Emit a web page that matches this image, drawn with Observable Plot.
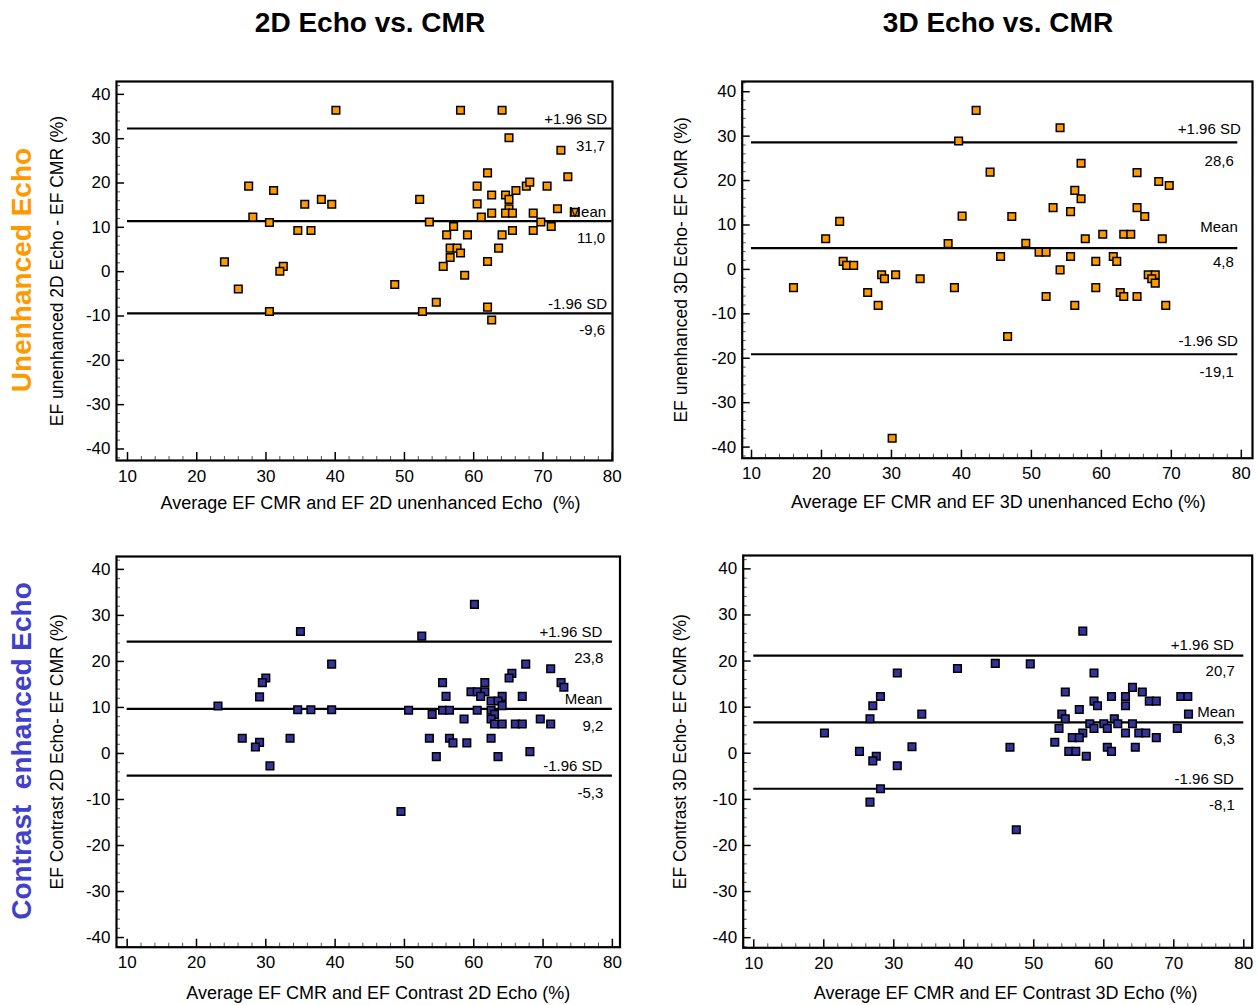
<!DOCTYPE html>
<html><head><meta charset="utf-8">
<script src="https://cdn.jsdelivr.net/npm/d3@7"></script>
<script src="https://cdn.jsdelivr.net/npm/@observablehq/plot@0.6"></script>
<style>
body{margin:0;background:#fff;}
#page{position:relative;width:1259px;height:1005px;overflow:hidden;font-family:"Liberation Sans",Arial,sans-serif;background:#fff;}
.title{position:absolute;font-weight:bold;font-size:28px;transform:translate(-50%,-50%);white-space:pre;color:#000;}
.row{position:absolute;font-weight:bold;font-size:28px;white-space:pre;transform:translate(-50%,-50%) rotate(-90deg);}
.panel{position:absolute;}
</style></head>
<body><div id="page"></div>
<script>
// ---------- data ----------
const colTitles = ["2D Echo vs. CMR", "3D Echo vs. CMR"];
const rowTitles = ["Unenhanced Echo", "Contrast  enhanced Echo"];
const limitNames = ["+1.96 SD", "Mean", "-1.96 SD"];
const xTicks = [10, 20, 30, 40, 50, 60, 70, 80];
const yTicks = [-40, -30, -20, -10, 0, 10, 20, 30, 40];

// Unenhanced 2D echo vs CMR
const u2dAvg = [40.1,27.5,31.1,35.6,38.0,39.5,28.1,30.5,34.6,36.5,24.0,32.5,32.0,26.0,30.5,
  58.1,64.1,65.1,72.6,62.0,73.6,60.5,67.6,68.1,70.6,66.1,62.6,64.6,52.2,60.5,65.1,65.1,72.1,62.6,64.6,65.6,68.6,74.6,61.1,53.6,69.7,71.2,57.1,56.1,59.1,64.1,65.6,68.6,56.6,57.6,58.1,63.6,56.6,55.6,62.0,58.7,48.6,54.6,52.6,62.0,62.6];
const u2dDiff = [36.4,19.3,18.3,15.2,16.3,15.2,12.3,11.1,9.3,9.3,2.2,1.2,0.1,-3.9,-9.0,
  36.4,36.4,30.2,27.4,22.3,21.4,19.3,19.3,20.2,19.3,18.3,17.3,17.3,16.3,15.3,16.3,14.2,14.2,13.2,13.2,13.2,13.2,13.4,12.3,11.2,11.2,10.2,10.2,8.3,8.3,8.3,9.3,9.3,5.3,5.3,4.2,5.3,3.2,1.2,2.3,-0.8,-2.9,-6.9,-9.0,-8.0,-10.9];
const u2dLimits = [32.3, 11.4, -9.4];
const u2dLimitText = ["31,7", "11,0", "-9,6"];

// Unenhanced 3D echo vs CMR
const u3dAvg = [42.1,39.6,44.1,22.6,40.1,20.6,38.1,45.6,23.1,23.6,24.6,28.6,29.0,30.6,34.1,16.0,39.0,26.6,28.1,30.1,
  54.1,57.1,65.1,68.2,69.7,56.2,57.1,53.1,55.6,65.1,66.2,47.2,57.7,60.2,63.2,64.2,68.7,49.2,51.1,52.1,55.6,59.2,61.7,62.2,54.1,66.7,67.7,67.2,67.7,59.2,62.7,63.2,52.1,65.1,56.2,69.2,46.6];
const u3dDiff = [35.8,28.9,21.9,10.8,12.0,6.9,5.8,2.9,1.8,0.9,0.9,-1.2,-2.1,-1.2,-2.1,-4.1,-4.1,-5.2,-8.1,-38.0,
  31.9,23.9,21.8,19.8,18.9,17.8,15.9,13.9,13.0,13.9,11.9,11.9,6.9,7.9,7.9,7.9,6.9,5.9,3.9,3.9,2.9,1.8,2.9,1.8,-0.1,-1.2,-1.2,-2.1,-3.1,-4.1,-5.2,-6.1,-6.1,-6.1,-8.1,-8.1,-15.1];
const u3dLimits = [28.6, 4.8, -19.1];
const u3dLimitText = ["28,6", "4,8", "-19,1"];

// Contrast 2D echo vs CMR
const c2dAvg = [35.0,39.5,30.0,29.5,29.1,23.1,34.6,36.5,39.5,26.6,33.5,29.1,28.5,30.6,
  60.1,52.5,67.5,71.1,65.5,65.1,72.6,73.0,55.5,61.6,59.6,60.5,61.6,61.0,56.0,67.0,64.1,62.5,63.5,64.1,50.6,55.5,56.5,60.5,62.5,54.0,63.0,58.6,62.5,69.6,63.0,64.1,66.0,67.0,71.1,53.6,56.5,57.0,59.0,62.5,54.6,63.5,68.1,49.5];
const c2dDiff = [26.5,19.4,16.4,15.4,12.3,10.3,9.5,9.5,9.5,3.3,3.3,2.4,1.4,-2.7,
  32.4,25.5,19.4,18.4,17.4,16.4,15.4,14.4,15.4,15.4,13.4,13.4,13.4,12.4,12.4,12.4,12.4,11.4,11.4,10.4,9.4,9.4,9.4,9.4,9.4,8.5,8.5,7.5,7.5,7.5,6.4,6.4,6.4,6.4,6.4,3.3,3.3,2.3,2.3,3.3,-0.7,-0.7,0.4,-12.6];
const c2dLimits = [24.3, 9.7, -4.8];
const c2dLimitText = ["23,8", "9,2", "-5,3"];

// Contrast 3D echo vs CMR
const c3dAvg = [44.5,39.1,30.5,28.1,27.0,34.0,26.6,20.1,32.6,25.1,27.5,27.0,30.5,28.1,26.6,
  57.0,49.5,58.6,64.1,54.5,65.5,61.1,63.1,71.0,72.0,58.6,66.5,67.5,59.1,63.1,56.5,54.0,54.5,72.1,61.5,58.0,60.0,62.0,64.1,53.6,58.6,60.5,70.5,57.0,55.5,56.5,63.1,65.0,66.0,67.5,53.0,46.6,60.5,64.5,55.0,56.0,61.1,57.5,47.5];
const c3dDiff = [19.5,18.4,17.4,12.3,10.3,8.5,7.5,4.4,1.4,0.4,-0.65,-1.65,-2.7,-7.7,-10.6,
  26.5,19.4,17.4,14.3,13.3,13.3,12.3,12.3,12.3,12.3,11.3,11.3,11.3,10.3,10.3,9.5,8.5,7.5,8.5,7.5,6.4,6.4,6.4,6.4,5.4,5.4,5.4,5.4,4.4,3.4,3.4,4.4,4.4,4.4,3.4,2.4,1.3,1.3,1.3,0.4,0.4,0.4,-0.65,-16.6];
const c3dLimits = [21.2, 6.7, -7.7];
const c3dLimitText = ["20,7", "6,3", "-8,1"];

// ---------- layout ----------
const FONT = '"Liberation Sans", Arial, sans-serif';
const ORANGE = "#FF9900";
const BLUE_PT = "#333399";
const BLUE_TXT = "#4040CC";

const page = document.getElementById("page");
function addDiv(cls, text, left, top, color) {
  const d = document.createElement("div");
  d.className = cls; d.textContent = text;
  d.style.left = left + "px"; d.style.top = top + "px";
  if (color) d.style.color = color;
  page.appendChild(d);
}
addDiv("title", colTitles[0], 370, 23);
addDiv("title", colTitles[1], 998, 23);
addDiv("row", rowTitles[0], 22, 270, ORANGE);
addDiv("row", rowTitles[1], 22, 751, BLUE_TXT);

const panels = [
  {left: 40, top: 50, w: 590, h: 480, ml: 76, mr: 18, mt: 31, mb: 70,
   xDomain: [8.41, 80.05], yDomain: [-42.6, 42.9],
   avg: u2dAvg, diff: u2dDiff, lim: u2dLimits, limText: u2dLimitText, lineEnd: 80,
   color: ORANGE, xLabel: "Average EF CMR and EF 2D unenhanced Echo  (%)",
   yLabel: "EF unenhanced 2D Echo - EF CMR (%)", xlDx: 6, xlDy: 43, ylDx: -59,
   nameDx: [-5, -6, -5], valDx: -7, nameDy: [-9, -9, -9], valDy: [18, 17, 17]},
  {left: 655, top: 50, w: 604, h: 480, ml: 86.7, mr: 7, mt: 31, mb: 72.3,
   xDomain: [8.67, 81.6], yDomain: [-42.5, 42.3],
   avg: u3dAvg, diff: u3dDiff, lim: u3dLimits, limText: u3dLimitText, lineEnd: 79.5,
   color: ORANGE, xLabel: "Average EF CMR and EF 3D unenhanced Echo (%)",
   yLabel: "EF unenhanced 3D Echo- EF CMR (%)", xlDx: 1, xlDy: 44, ylDx: -60.7,
   nameDx: [3, 0, 0], valDx: -4, nameDy: [-13, -21, -13], valDy: [19, 14, 18]},
  {left: 40, top: 535, w: 590, h: 470, ml: 76, mr: 10.5, mt: 21, mb: 58.3,
   xDomain: [8.46, 81.1], yDomain: [-42.1, 42.8],
   avg: c2dAvg, diff: c2dDiff, lim: c2dLimits, limText: c2dLimitText, lineEnd: 80,
   color: BLUE_PT, xLabel: "Average EF CMR and EF Contrast 2D Echo (%)",
   yLabel: "EF Contrast 2D Echo- EF CMR (%)", xlDx: 10, xlDy: 46, ylDx: -59,
   nameDx: [-10, -10, -10], valDx: -9, nameDy: [-9, -10, -9], valDy: [17, 17, 18]},
  {left: 655, top: 535, w: 604, h: 470, ml: 87.7, mr: 7.3, mt: 20, mb: 57.7,
   xDomain: [8.49, 81.2], yDomain: [-42.2, 42.9],
   avg: c3dAvg, diff: c3dDiff, lim: c3dLimits, limText: c3dLimitText, lineEnd: 80,
   color: BLUE_PT, xLabel: "Average EF CMR and EF Contrast 3D Echo (%)",
   yLabel: "EF Contrast 3D Echo- EF CMR (%)", xlDx: 8, xlDy: 45.5, ylDx: -62.7,
   nameDx: [-10, -9, -10], valDx: -9, nameDy: [-10, -10, -10], valDy: [16, 17, 16]}
];

const xMinor = d3.range(10, 81, 2).filter(v => v % 10 !== 0);
const yMinor = d3.range(-42, 43, 2).filter(v => v % 10 !== 0);

for (const p of panels) {
  const fw = p.w - p.ml - p.mr, fh = p.h - p.mt - p.mb;
  const pts = p.avg.map((x, i) => ({x, y: p.diff[i]}));
  const lims = p.lim.map((v, i) => ({v, name: limitNames[i], val: p.limText[i], i}));
  const marks = [
    Plot.tickX(xMinor, {x: d => d, insetTop: fh - 4, stroke: "#555", strokeWidth: 1}),
    Plot.tickY(yMinor, {y: d => d, insetRight: fw - 4, stroke: "#555", strokeWidth: 1}),
    Plot.tickX(xTicks, {x: d => d, insetTop: fh - 8, stroke: "#000", strokeWidth: 1.5}),
    Plot.tickY(yTicks, {y: d => d, insetRight: fw - 8, stroke: "#000", strokeWidth: 1.5}),
    Plot.axisX({ticks: xTicks, tickSize: 0, tickPadding: 9, tickFormat: d => String(d), label: null}),
    Plot.axisY({ticks: yTicks, tickSize: 0, tickPadding: 6, tickFormat: d => String(d), label: null}),
    Plot.text([p.xLabel], {frameAnchor: "bottom", text: d => d, dx: p.xlDx, dy: p.xlDy,
      fontSize: 18, fill: "#000", lineAnchor: "middle", textAnchor: "middle"}),
    Plot.text([p.yLabel], {frameAnchor: "left", text: d => d, dx: p.ylDx, rotate: -90,
      fontSize: 17.5, fill: "#000", lineAnchor: "middle", textAnchor: "middle"}),
    Plot.ruleY(lims, {y: "v", x1: 10, x2: p.lineEnd, stroke: "#000", strokeWidth: 2.2}),
    Plot.dot(pts, {x: "x", y: "y", symbol: "square", r: 4.3, fill: p.color, stroke: "#000", strokeWidth: 1.5})
  ];
  lims.forEach((l, i) => {
    marks.push(Plot.text([l], {x: p.lineEnd, y: "v", text: "name", textAnchor: "end",
      dx: p.nameDx[i], dy: p.nameDy[i], fontSize: 15, fill: "#000"}));
    marks.push(Plot.text([l], {x: p.lineEnd, y: "v", text: "val", textAnchor: "end",
      dx: p.valDx, dy: p.valDy[i], fontSize: 15, fill: "#000"}));
  });
  marks.push(Plot.frame({stroke: "#000", strokeWidth: 2.2}));
  const chart = Plot.plot({
    width: p.w, height: p.h,
    marginLeft: p.ml, marginRight: p.mr, marginTop: p.mt, marginBottom: p.mb,
    x: {domain: p.xDomain},
    y: {domain: p.yDomain},
    style: {fontFamily: FONT, fontSize: "17px", color: "#000", background: "transparent", overflow: "visible"},
    marks
  });
  const holder = document.createElement("div");
  holder.className = "panel";
  holder.style.left = p.left + "px"; holder.style.top = p.top + "px";
  holder.appendChild(chart);
  page.appendChild(holder);
}
</script>
</body></html>
